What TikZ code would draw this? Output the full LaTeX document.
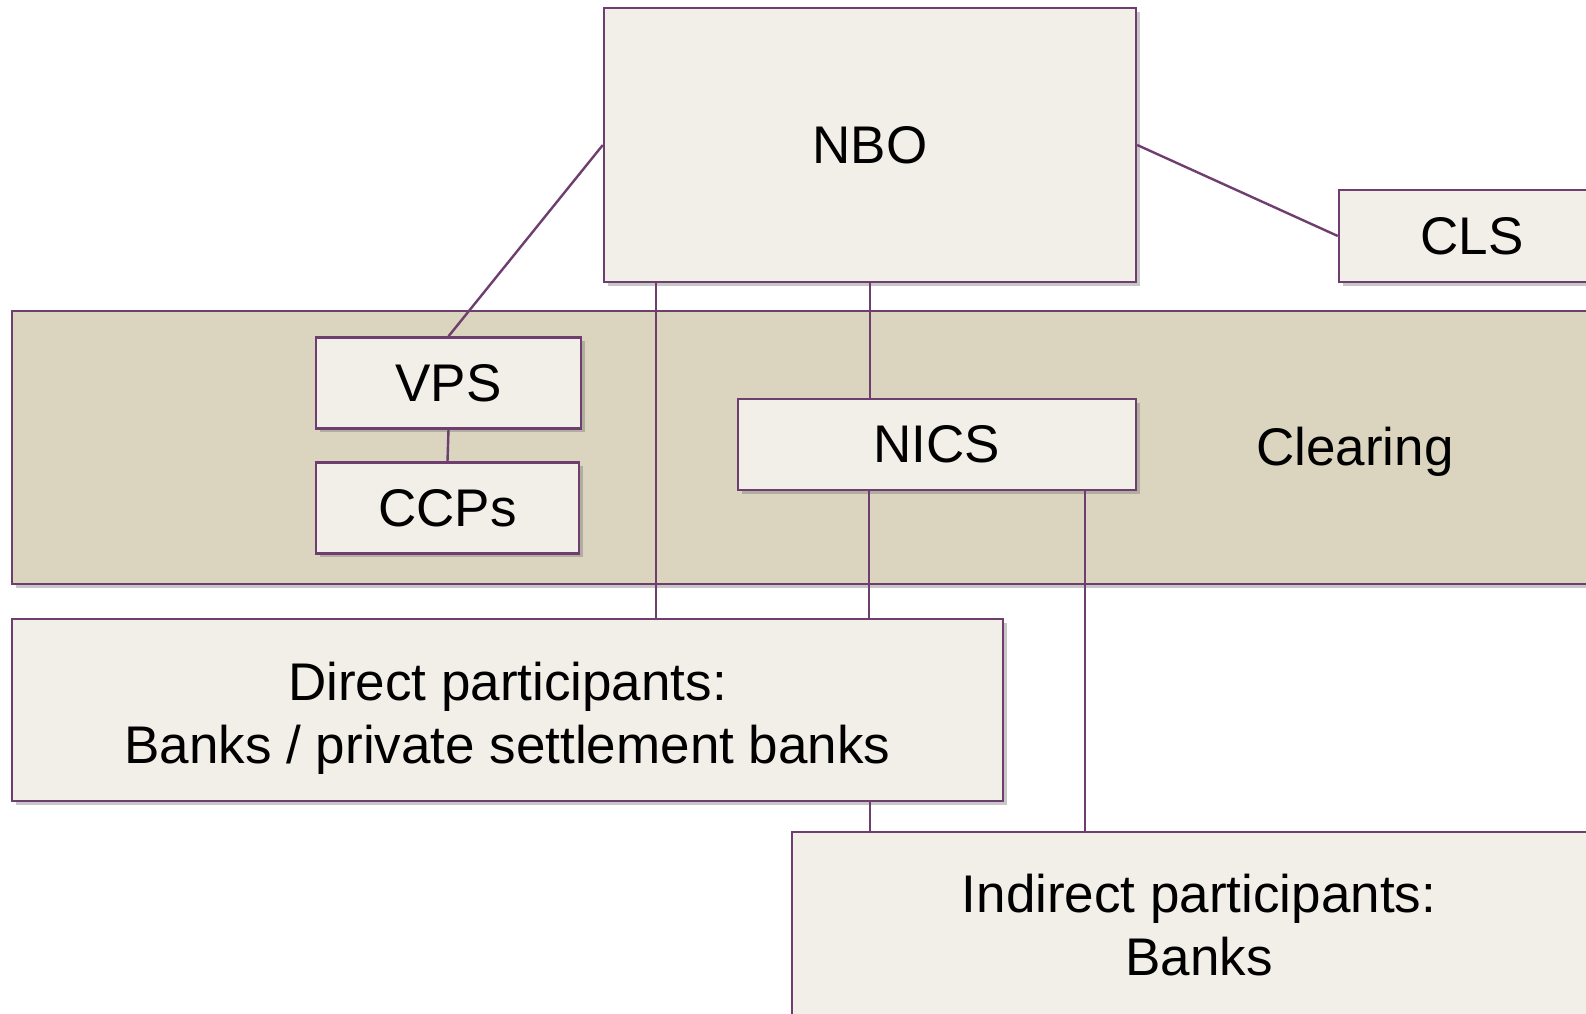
\documentclass[tikz,border=0pt]{standalone}
\usepackage{fontspec}
\setmainfont{Liberation Sans}
\usetikzlibrary{shadows,calc}
\definecolor{boxfill}{HTML}{F2EFE9}
\definecolor{bandfill}{HTML}{DBD4BE}
\definecolor{edgecol}{HTML}{6E3F6E}
\begin{document}
\begin{tikzpicture}[x=0.5pt,y=-0.5pt,
  shad/.style={drop shadow={shadow xshift=1.8pt,shadow yshift=-1.8pt,opacity=0.4,fill=black!55}},
  box/.style={draw=edgecol,line width=1.2pt,fill=boxfill,inner sep=0pt,shad,
    font=\fontsize{26.5}{31.5}\selectfont,align=center},
  lbl/.style={font=\fontsize{26.5}{31.5}\selectfont,align=center,inner sep=0pt},
  band/.style={draw=edgecol,line width=1.2pt,fill=bandfill,inner sep=0pt,shad},
  conn/.style={draw=edgecol,line width=1.2pt}]
\useasboundingbox (0,0) rectangle (1586,1013);
\clip (0,0) rectangle (1586,1013);
\node[band,minimum width=799pt,minimum height=136.5pt] (band) at (811,447.5) {};
\node[lbl] (clearlbl) at (1355,452) {Clearing};
\node[box,minimum width=266pt,minimum height=137pt] (nbo) at (870,145) {NBO};
\node[box,minimum width=133pt,minimum height=46pt] (cls) at (1472,236) {CLS};
\node[box,minimum width=132.5pt,minimum height=45.5pt] (vps) at (448.5,383) {VPS};
\node[box,minimum width=131.5pt,minimum height=45.5pt] (ccps) at (447.5,508) {CCPs};
\node[box,minimum width=199pt,minimum height=45.5pt] (nics) at (937,444.5) {NICS};
\node[box,minimum width=495.5pt,minimum height=91pt] (direct) at (507.5,710) {};
\node[lbl] (directlbl) at (507.5,718) {Direct participants:\\Banks / private settlement banks};
\node[box,minimum width=407pt,minimum height=93pt] (indirect) at (1199,925) {Indirect participants:\\Banks};
\draw[conn] (nbo.west) -- (vps.north);
\draw[conn] (nbo.east) -- (cls.west);
\draw[conn] (vps.south) -- (ccps.north);
\draw[conn] ($(nbo.south west)+(53,0)$) coordinate (c1) -- (c1 |- direct.north);
\draw[conn] (nbo.south) -- (nbo.south |- nics.north);
\draw[conn] ($(nics.south west)+(132,0)$) coordinate (c2) -- (c2 |- direct.north);
\draw[conn] ($(nics.south east)+(-52,0)$) coordinate (c3) -- (c3 |- indirect.north);
\draw[conn] (nbo.south |- direct.south) -- (nbo.south |- indirect.north);
\end{tikzpicture}
\end{document}
